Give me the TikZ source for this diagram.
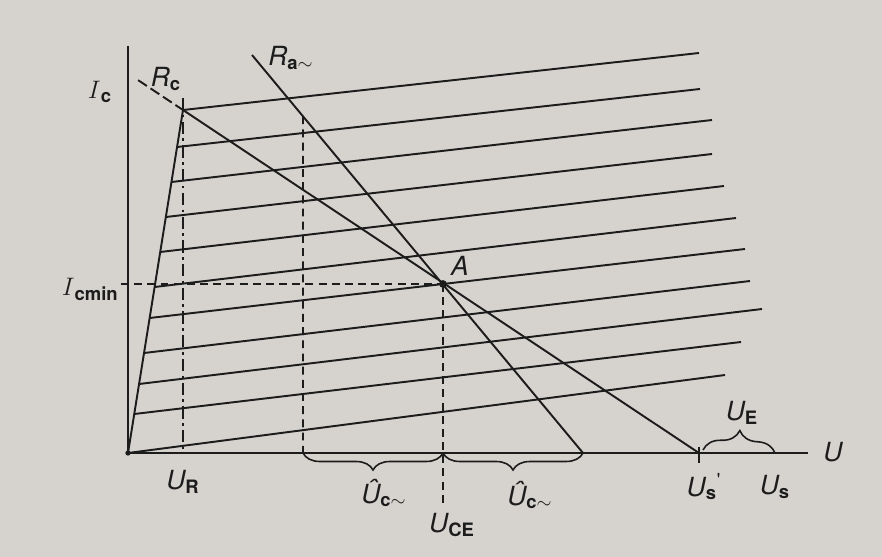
\documentclass[tikz,border=0pt]{standalone}
\usepackage{fontspec}
\newfontfamily\lblfont{TeX Gyre Heros}
\usetikzlibrary{calc,decorations.pathreplacing}

\definecolor{paper}{RGB}{214,211,207}
\definecolor{ink}{RGB}{28,28,28}

\newcommand{\lsub}[1]{\textsubscript{\upshape\bfseries #1}}

\tikzset{
  axis/.style={ink, line width=1.6pt},
  curve/.style={ink, line width=1.1pt},
  helpline/.style={ink, line width=1pt, dash pattern=on 4.5pt off 3pt},
  dashdotline/.style={ink, line width=1pt, dash pattern=on 7pt off 2.5pt on 1.5pt off 2.5pt},
  lbl/.style={font=\fontsize{15}{18}\selectfont\lblfont\itshape, text=ink, inner sep=0pt},
  bracket/.style={ink, line width=0.9pt, decorate, decoration={brace, amplitude=#1}},
}

\begin{document}
\begin{tikzpicture}[x=0.02cm, y=-0.02cm]

  \fill[paper] (0,0) rectangle (882,557);
  \useasboundingbox (0,0) rectangle (882,557);

  \coordinate (O) at (128,453);
  \coordinate (K) at (183,110);
  \coordinate (Ytop) at (128,46);
  \coordinate (Xend) at (808,453);
  \coordinate (A) at (443,284);
  \coordinate (RaTop) at (252,55);
  \coordinate (RaEnd) at (583,453);
  \coordinate (Usp) at (699,453);
  \coordinate (Us) at (775,453);
  \coordinate (RcTop) at ($(K)!-0.087!(Usp)$);
  \coordinate (Ra303) at ($(RaTop)!{(303-252)/331}!(RaEnd)$);

  % Output characteristics
  \draw[curve] (O) -- (K);
  \foreach \yl/\xr/\yr in {110/699/53, 147/700/89, 182/712/120, 217/712/154,
                           252/724/186, 287/736/218, 318/745/249, 353/750/281,
                           384/762/309, 414/741/342, 453/725/375}
    \draw[curve] ($(O)!{(453-\yl)/343}!(K)$) -- (\xr,\yr);

  % Load lines
  \draw[curve, dash pattern=on 6pt off 2.5pt] (RcTop) -- (K);
  \draw[curve] (K) -- (Usp);
  \draw[curve] (RaTop) -- (RaEnd);

  % Helper lines
  \draw[helpline] (121,284) -- (A);
  \draw[helpline] (A) -- (443,503);
  \draw[helpline] (Ra303) -- (303,453);
  \draw[dashdotline] (183,98) -- (183,453);
  \draw[ink, line width=0.9pt] (Usp) ++(0,-6) -- ++(0,16);

  % Axes
  \draw[axis] (O) -- (Ytop);
  \draw[axis] (O) -- (Xend);

  % Points
  \fill[ink] (A) circle (2.2pt);
  \fill[ink] (O) circle (1.5pt);

  % Braces
  \draw[bracket=0.34cm] (443,453) -- (303,453);
  \draw[bracket=0.34cm] (583,453) -- (443,453);
  \draw[bracket=0.42cm] (703,450) -- (Us);

  % Labels
  \node[lbl] (lIc)    at (100,92)  {$I$\lsub{c}};
  \node[lbl] (lRc)    at (166,79)  {R\lsub{c}};
  \node[lbl] (lRa)    at (291,58)  {R\lsub{a$\sim$}};
  \node[lbl, anchor=east] (lIcmin) at (119,289) {$I$\lsub{cmin}};
  \node[lbl] (lA)     at (460,266) {A};
  \node[lbl] (lUR)    at (183,482) {U\lsub{R}};
  \node[lbl] (lUc1)   at (384,493) {\^U\lsub{c$\sim$}};
  \node[lbl] (lUCE)   at (452,525) {U\lsub{CE}};
  \node[lbl] (lUc2)   at (530,495) {\^U\lsub{c$\sim$}};
  \node[lbl] (lUsp)   at (704,487) {U\lsub{s}\textsuperscript{\upshape '}};
  \node[lbl] (lUs)    at (775,487) {U\lsub{s}};
  \node[lbl] (lUE)    at (742,413) {U\lsub{E}};
  \node[lbl] (lU)     at (833,452) {U};

\end{tikzpicture}
\end{document}
